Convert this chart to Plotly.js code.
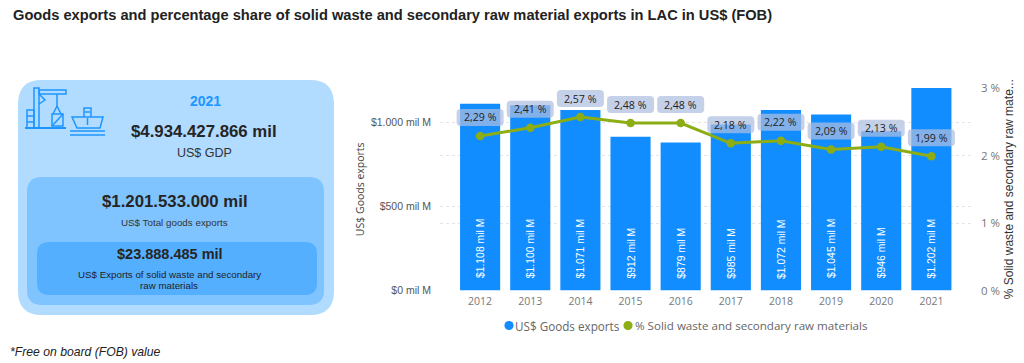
<!DOCTYPE html>
<html>
<head>
<meta charset="utf-8">
<script src="https://cdn.plot.ly/plotly-3.0.1.min.js"></script>
<style>html,body{margin:0;padding:0;background:#fff;overflow:hidden}</style>
</head>
<body>
<div id="chart" style="width:1024px;height:363px"></div>
<script>
const years = ['2012','2013','2014','2015','2016','2017','2018','2019','2020','2021'];
const goodsExports = [1108,1100,1071,912,879,985,1072,1045,946,1202];
const goodsLabels = ['$1.108 mil M','$1.100 mil M','$1.071 mil M','$912 mil M','$879 mil M','$985 mil M','$1.072 mil M','$1.045 mil M','$946 mil M','$1.202 mil M'];
const wasteShare = [2.29,2.41,2.57,2.48,2.48,2.18,2.22,2.09,2.13,1.99];
const wasteLabels = ['2,29 %','2,41 %','2,57 %','2,48 %','2,48 %','2,18 %','2,22 %','2,09 %','2,13 %','1,99 %'];
const leftTickVals = [0,500,1000];
const leftTickText = ['$0 mil M','$500 mil M','$1.000 mil M'];
const rightTickVals = [0,1,2,3];
const rightTickText = ['0 %','1 %','2 %','3 %'];

const W = 1024, H = 363;
const BLUE = '#118DFF', GREEN = '#8CAE14', ICON = '#1E96FF';
const SANS = 'Liberation Sans, Arial, sans-serif';
const UI = 'Open Sans, Noto Sans, sans-serif';
const px = x => x / W, py = y => 1 - y / H;

function pPath(cmds) {
  return cmds.map(c => c[0] + ' ' + c.slice(1).map((v, i) => (i % 2 ? py(v) : px(v)).toFixed(5)).join(' ')).join(' ');
}
function roundRect(x0, y0, x1, y1, r) {
  return pPath([['M',x0+r,y0],['L',x1-r,y0],['Q',x1,y0,x1,y0+r],['L',x1,y1-r],['Q',x1,y1,x1-r,y1],
    ['L',x0+r,y1],['Q',x0,y1,x0,y1-r],['L',x0,y0+r],['Q',x0,y0,x0+r,y0]]) + ' Z';
}
function panel(x0, y0, x1, y1, r, color) {
  return {type:'path', xref:'paper', yref:'paper', path:roundRect(x0,y0,x1,y1,r), fillcolor:color, line:{width:0}, layer:'below'};
}
function icon(cmds, close, w) {
  return {type:'path', xref:'paper', yref:'paper', path:pPath(cmds)+(close?' Z':''), fillcolor:'rgba(0,0,0,0)', line:{color:ICON,width:w||1.5}};
}
function dot(cx, cy, r, color) {
  return {type:'circle', xref:'paper', yref:'paper', x0:px(cx-r), x1:px(cx+r), y0:py(cy+r), y1:py(cy-r), fillcolor:color, line:{width:0}};
}
function pillPath(w, h, base, r) {
  const x=w/2, a=base, b=base+h;
  return `M ${-x+r} ${a} L ${x-r} ${a} Q ${x} ${a} ${x} ${a+r} L ${x} ${b-r} Q ${x} ${b} ${x-r} ${b} L ${-x+r} ${b} Q ${-x} ${b} ${-x} ${b-r} L ${-x} ${a+r} Q ${-x} ${a} ${-x+r} ${a} Z`;
}
function txt(x, y, text, size, color, opts) {
  return Object.assign({xref:'paper', yref:'paper', x:px(x), y:py(y), text:text, showarrow:false,
    xanchor:'center', yanchor:'middle', align:'center', font:{family:SANS,size:size,color:color}}, opts||{});
}

const shapes = [
  panel(18,80,334,315,24,'#B1DBFF'),
  panel(27,177,324,305,15,'#80C4FF'),
  panel(37,242,317,295,12,'#55AFFF'),
  // crane
  icon([['M',34,88],['L',39,88],['L',39,128],['L',34,128]],true),
  icon([['M',39,90],['L',66,90],['L',66,94],['L',39,94]],true),
  icon([['M',25,128],['L',66,128]],false,1.8),
  icon([['M',27,110],['L',34,110],['L',34,128],['L',27,128]],true),
  icon([['M',27,116],['L',34,116]]),icon([['M',27,122],['L',34,122]]),
  icon([['M',39,94],['L',45,100],['L',39,104]]),
  icon([['M',57,94],['L',57,106]]),
  icon([['M',57,106],['L',53,114],['M',57,106],['L',61,114]]),
  icon([['M',52,114],['L',63,114],['L',63,126],['L',52,126]],true),
  icon([['M',52,126],['L',63,114]]),
  // ship
  icon([['M',72,117],['L',103,117],['L',100,128],['L',77,128]],true),
  icon([['M',84,117],['L',84,108],['L',91,108],['L',91,117]]),
  icon([['M',85,112],['L',90,112]]),
  icon([['M',87.5,118],['L',87.5,125]]),
  icon([['M',70,131],['L',105,131]]),
  icon([['M',70,135],['L',105,135]]),
  // legend markers
  dot(509,325.5,4.6,BLUE),
  dot(628,325.5,4.6,GREEN)
];
years.forEach((yr,i)=>{
  shapes.push({type:'path', xref:'x', yref:'y2', xsizemode:'pixel', ysizemode:'pixel',
    xanchor:i, yanchor:wasteShare[i], path:pillPath(47,17,10,4),
    fillcolor:'rgba(175,190,225,0.72)', line:{width:0}, layer:'above'});
});

const annotations = [
  txt(11,15,'<b>Goods exports and percentage share of solid waste and secondary raw material exports in LAC in US$ (FOB)</b>',14.65,'#222',{xanchor:'left'}),
  txt(205,101,'<b>2021</b>',14,ICON),
  txt(204,131,'<b>$4.934.427.866 mil</b>',16.8,'#252525'),
  txt(204,153,'US$ GDP',12.5,'#333'),
  txt(175,201,'<b>$1.201.533.000 mil</b>',16.8,'#252525'),
  txt(174,222,'US$ Total goods exports',9.8,'#333'),
  txt(170,254,'<b>$23.888.485 mil</b>',14.5,'#252525'),
  txt(169,274,'US$ Exports of solid waste and secondary',9.75,'#222'),
  txt(169,285,'raw materials',9.75,'#222'),
  txt(8,352,'<i>*Free on board (FOB) value</i>',12.2,'#222',{xanchor:'left'}),
  txt(513,325.5,'US$ Goods exports',11.7,'#666',{xanchor:'left',font:{family:UI,size:11.7,color:'#666'}}),
  txt(633,325.5,'% Solid waste and secondary raw materials',11.6,'#666',{xanchor:'left',font:{family:UI,size:11.6,color:'#666'}})
];
years.forEach((yr,i)=>{
  annotations.push({xref:'x', yref:'y', x:i, y:0, yshift:10, text:goodsLabels[i], textangle:-90, showarrow:false,
    xanchor:'center', yanchor:'bottom', font:{family:SANS,size:10.4,color:'#fff'}});
  annotations.push({xref:'x', yref:'y2', x:i, y:wasteShare[i], yshift:18.5, text:wasteLabels[i], showarrow:false,
    xanchor:'center', yanchor:'middle', font:{family:UI,size:10.6,color:'#222'}});
});

const traces = [
  {type:'bar', x:years, y:goodsExports, name:'US$ Goods exports', marker:{color:BLUE}, hoverinfo:'x+y', showlegend:false},
  {type:'scatter', mode:'lines+markers', x:years, y:wasteShare, yaxis:'y2', name:'% Solid waste and secondary raw materials',
   line:{color:GREEN,width:3}, marker:{color:GREEN,size:8.5}, cliponaxis:false, showlegend:false}
];

const layout = {
  width:W, height:H, margin:{l:0,r:0,t:0,b:0}, paper_bgcolor:'#fff', plot_bgcolor:'rgba(0,0,0,0)',
  showlegend:false, bargap:0.2,
  xaxis:{type:'category', domain:[px(440),px(972)], range:[-0.8,9.81], anchor:'y', showgrid:false, zeroline:false,
    showline:false, ticks:'', ticklabelstandoff:3, tickfont:{family:UI,size:10.5,color:'#777'}},
  yaxis:{domain:[py(290.5),py(88)], range:[0,1202], anchor:'x', tickvals:leftTickVals, ticktext:leftTickText,
    showgrid:true, gridcolor:'#e4e4e4', griddash:'dot', gridwidth:1, zeroline:false, showline:false, ticks:'',
    ticklabelstandoff:8, tickfont:{family:SANS,size:10.5,color:'#555'},
    title:{text:'US$ Goods exports', standoff:4, font:{family:UI,size:10.5,color:'#444'}}},
  yaxis2:{domain:[py(290.5),py(88)], range:[0,3], anchor:'x', overlaying:'y', side:'right', tickvals:rightTickVals, ticktext:rightTickText,
    showgrid:true, gridcolor:'#e4e4e4', griddash:'dot', gridwidth:1, zeroline:false, showline:false, ticks:'',
    ticklabelstandoff:8, tickfont:{family:UI,size:11.5,color:'#777'},
    title:{text:'% Solid waste and secondary raw mate...', standoff:5, font:{family:SANS,size:12,color:'#333'}}},
  shapes:shapes, annotations:annotations
};
Plotly.newPlot('chart', traces, layout, {displayModeBar:false, responsive:false});
</script>
</body>
</html>
